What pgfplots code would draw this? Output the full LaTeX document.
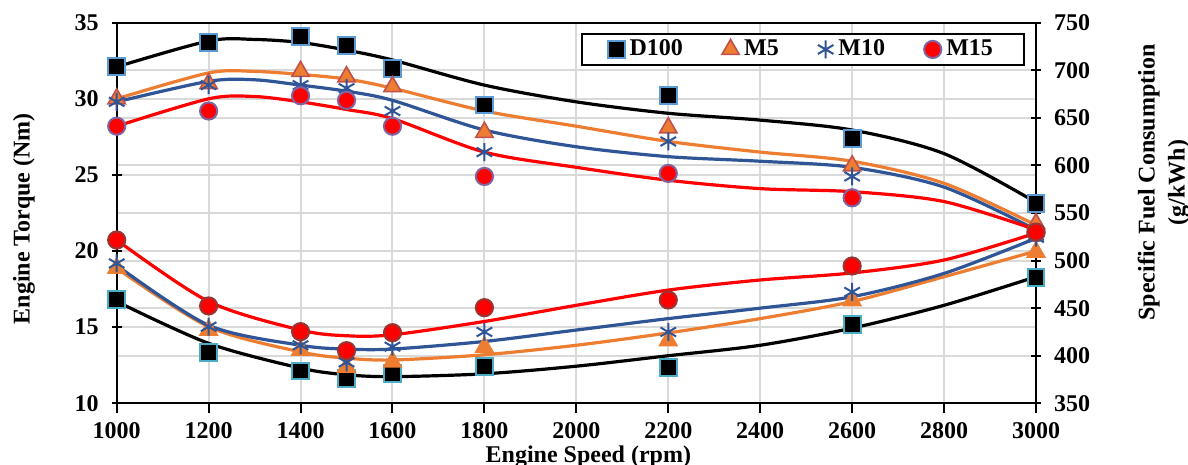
\documentclass[border=0pt]{standalone}
\usepackage{fontspec}
\setmainfont{Liberation Serif}
\usepackage{pgfplots}
\pgfplotsset{compat=1.18}

\definecolor{gridgray}{RGB}{217,217,217}
\definecolor{lineorange}{RGB}{237,125,49}
\definecolor{lineblue}{RGB}{47,85,151}
\definecolor{edgesteel}{RGB}{91,155,213}
\definecolor{edgeteal}{RGB}{75,172,198}
\definecolor{edgebrick}{RGB}{192,80,77}
\definecolor{edgepurple}{RGB}{128,100,162}
\definecolor{edgemaroon}{RGB}{149,55,53}

\begin{document}
\begin{tikzpicture}
\pgfplotsset{
  common/.style={
    scale only axis, width=459.65pt, height=190.3pt,
    at={(0pt,0pt)}, anchor=south west,
    xmin=1000, xmax=3000, xtick={1000,1200,...,3000},
    set layers,
    /pgf/number format/assume math mode=true,
    /pgf/number format/1000 sep={},
    tick label style={font=\fontsize{12}{14}\selectfont\bfseries},
    label style={font=\fontsize{12}{15}\selectfont\bfseries},
    major tick length=5pt,
    grid style={draw=gridgray, line width=1pt},
    axis line style={line width=1.1pt},
    every tick/.style={black, line width=1pt},
  },
  trend/.style={line width=1.6pt, smooth, tension=0.5, forget plot},
}
% Engine torque (left axis)
\begin{axis}[common,
  ymin=10, ymax=35, ytick={10,15,...,35},
  xmajorgrids, ymajorgrids,
  xtick pos=bottom, ytick pos=left,
  xtick align=outside, ytick align=center,
  yticklabel style={xshift=-3pt},
  xticklabel style={yshift=-1pt},
  xlabel={Engine Speed (rpm)},
  ylabel={Engine Torque (Nm)},
  xlabel style={xshift=6pt, yshift=3pt},
  ylabel style={at={(ticklabel cs:0.485)}},
  ylabel shift=13pt,
  legend columns=4,
  legend image code/.code={\draw[#1] plot coordinates {(0pt,0pt)};},
  legend style={at={(0.988,0.973)}, anchor=north east,
    draw=black, line width=1pt, fill=white,
    inner xsep=13pt, inner ysep=1pt,
    font=\fontsize{12}{14}\selectfont\bfseries,
    nodes={inner ysep=2pt, inner xsep=2.5pt},
    /tikz/every even column/.append style={column sep=17pt}},
]
\addplot[trend, black] coordinates {
  (1000,32.1) (1200,33.8) (1300,33.9) (1400,33.7) (1500,33.2) (1600,32.55)
  (1800,30.9) (2000,29.8) (2200,29.05) (2400,28.6) (2600,27.95) (2800,26.4) (3000,23.2)};
\addplot[trend, lineorange] coordinates {
  (1000,30.0) (1200,31.7) (1300,31.8) (1400,31.6) (1500,31.3) (1600,30.7)
  (1800,29.2) (2000,28.2) (2200,27.2) (2400,26.5) (2600,25.9) (2800,24.45) (3000,21.7)};
\addplot[trend, lineblue] coordinates {
  (1000,29.8) (1200,31.15) (1300,31.25) (1400,30.9) (1500,30.5) (1600,29.9)
  (1800,27.95) (2000,26.85) (2200,26.2) (2400,25.9) (2600,25.5) (2800,24.2) (3000,21.4)};
\addplot[trend, red] coordinates {
  (1000,28.2) (1200,30.0) (1300,30.15) (1400,29.8) (1500,29.3) (1600,28.7)
  (1800,26.5) (2000,25.5) (2200,24.65) (2400,24.1) (2600,23.9) (2800,23.25) (3000,21.4)};

\addplot[only marks, mark=square*, mark size=4.2pt,
  mark options={fill=black, draw=edgesteel, line width=1pt}] coordinates {
  (1000,32.1) (1200,33.7) (1400,34.1) (1500,33.5) (1600,32.0)
  (1800,29.6) (2200,30.2) (2600,27.4) (3000,23.1)};
\addlegendentry{D100}
\addplot[only marks, mark=triangle*, mark size=5pt,
  mark options={fill=lineorange, draw=edgebrick, line width=0.8pt}] coordinates {
  (1000,30.0) (1200,31.0) (1400,31.8) (1500,31.45) (1600,30.8)
  (1800,27.8) (2200,28.1) (2600,25.6) (3000,21.8)};
\addlegendentry{M5}
\addplot[only marks, mark=asterisk, mark size=4.5pt,
  mark options={draw=lineblue, line width=1pt}] coordinates {
  (1000,29.8) (1200,30.9) (1400,30.9) (1500,30.7) (1600,29.2)
  (1800,26.5) (2200,27.2) (2600,24.9) (3000,21.0)};
\addlegendentry{M10}
\addplot[only marks, mark=*, mark size=4.3pt,
  mark options={fill=red, draw=edgepurple, line width=1pt}] coordinates {
  (1000,28.2) (1200,29.2) (1400,30.2) (1500,29.9) (1600,28.2)
  (1800,24.9) (2200,25.1) (2600,23.5) (3000,21.2)};
\addlegendentry{M15}
\end{axis}

% Specific fuel consumption (right axis)
\begin{axis}[common,
  ymin=350, ymax=750, ytick={350,400,...,750},
  axis y line*=right, axis x line=none,
  ymajorgrids,
  ytick align=center,
  yticklabel style={xshift=3pt},
  ylabel={Specific Fuel Consumption\\(g/kWh)},
  ylabel style={align=center, at={(ticklabel cs:0.58)}},
  ylabel shift=17pt,
]
\addplot[trend, black] coordinates {
  (1000,457) (1200,413) (1400,387) (1500,380) (1600,378) (1800,381)
  (2000,389) (2200,400) (2400,411) (2600,429) (2800,453) (3000,483)};
\addplot[trend, lineorange] coordinates {
  (1000,492) (1200,430.5) (1400,404) (1500,397.5) (1600,395.5) (1800,401)
  (2000,411) (2200,424) (2400,439) (2600,457) (2800,483) (3000,510)};
\addplot[trend, lineblue] coordinates {
  (1000,495) (1200,432) (1400,411) (1500,407) (1600,407) (1800,415)
  (2000,427) (2200,439) (2400,450) (2600,462) (2800,486.5) (3000,523.5)};
\addplot[trend, red] coordinates {
  (1000,521.6) (1200,457) (1400,427) (1500,421) (1600,422) (1800,436)
  (2000,453) (2200,469) (2400,479.6) (2600,487) (2800,500.6) (3000,529)};

\addplot[only marks, mark=square*, mark size=4.2pt,
  mark options={fill=black, draw=edgeteal, line width=1pt}] coordinates {
  (1000,459) (1200,403.5) (1400,384) (1500,376) (1600,381.5)
  (1800,389) (2200,388) (2600,433) (3000,482.5)};
\addplot[only marks, mark=triangle*, mark size=5pt,
  mark options={fill=lineorange, draw=lineorange, line width=0.8pt}] coordinates {
  (1000,492) (1200,427) (1400,406) (1500,388) (1600,393.5)
  (1800,409) (2200,416) (2600,458) (3000,509)};
\addplot[only marks, mark=asterisk, mark size=4.5pt,
  mark options={draw=lineblue, line width=1pt}] coordinates {
  (1000,497) (1200,430.5) (1400,411) (1500,393) (1600,409.5)
  (1800,425) (2200,425) (2600,467) (3000,524)};
\addplot[only marks, mark=*, mark size=4.3pt,
  mark options={fill=red, draw=edgemaroon, line width=1pt}] coordinates {
  (1000,521.6) (1200,452.3) (1400,425.3) (1500,405.3) (1600,424.2)
  (1800,450.5) (2200,458.6) (2600,494.3) (3000,530)};
\end{axis}

\pgfresetboundingbox
\path[use as bounding box] (-58.35pt,-30.85pt) rectangle (535.65pt,201.65pt);
\end{tikzpicture}
\end{document}
